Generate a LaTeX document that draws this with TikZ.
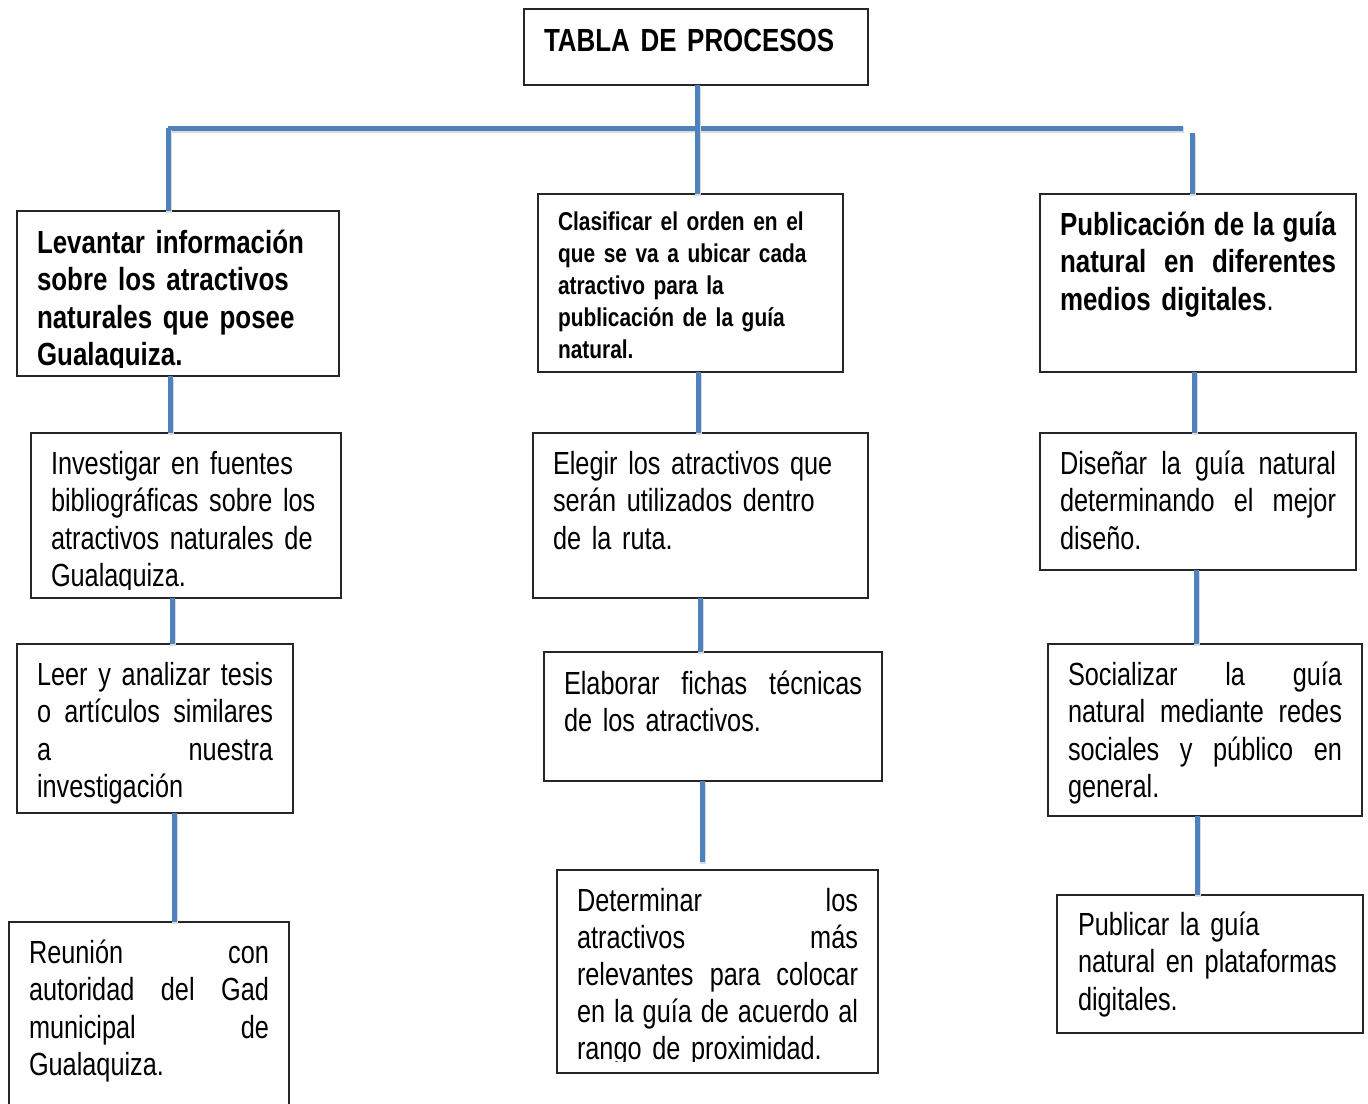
\documentclass[tikz,border=0pt]{standalone}
\usepackage{fontspec}
\setmainfont[UprightFeatures={FakeStretch=0.79},BoldFeatures={FakeStretch=0.81}]{Liberation Sans}
\definecolor{linkblue}{HTML}{4F81BD}
\newcommand\jline[2]{\leavevmode\hbox to #1pt{#2}}
\newcommand\jg{\hskip 5pt plus 1fill\relax}
\tikzset{
  box/.style={draw=black!85, line width=1.3pt, anchor=north west, inner sep=0pt, outer sep=0pt},
  txt/.style={anchor=north west, inner sep=0pt, outer sep=0pt, align=left,
              font=\fontsize{32}{37.5}\selectfont},
  txtb/.style={txt, font=\fontsize{32}{37.5}\selectfont\bfseries},
  link/.style={draw=linkblue, line width=5pt,
               preaction={draw=black!14, line width=6pt, transform canvas={shift={(1pt,-2pt)}}}},
}
\begin{document}
\begin{tikzpicture}[x=1pt,y=-1pt]
\clip (0,0) rectangle (1368,1103);
\fill[white] (0,0) rectangle (1368,1103);

% ---------- boxes ----------
\node[box, minimum width=344, minimum height=76]  (title) at (524,9) {};
\node[box, minimum width=322, minimum height=165] (L1) at (17,211) {};
\node[box, minimum width=305, minimum height=178] (C1) at (538,194) {};
\node[box, minimum width=316, minimum height=178] (R1) at (1040,194) {};
\node[box, minimum width=310, minimum height=165] (L2) at (31,433) {};
\node[box, minimum width=335, minimum height=165] (C2) at (533,433) {};
\node[box, minimum width=316, minimum height=137] (R2) at (1040,433) {};
\node[box, minimum width=276, minimum height=169] (L3) at (17,644) {};
\node[box, minimum width=338, minimum height=129] (C3) at (544,652) {};
\node[box, minimum width=314, minimum height=172] (R3) at (1048,644) {};
\node[box, minimum width=280, minimum height=200] (L4) at (9,922) {};
\node[box, minimum width=321, minimum height=203] (C4) at (557,870) {};
\node[box, minimum width=306, minimum height=138] (R4) at (1057,895) {};

% ---------- connectors ----------
\coordinate (busL) at (168,128);
\coordinate (busR) at (1183,128);
\coordinate (busRv) at (1192,133);
\coordinate (tx) at (697,0);
\draw[link] (busL) -- (busR);
\draw[link] (tx |- title.south) -- (tx |- C1.north);
\draw[link] (busL) -- (busL |- L1.north);
\draw[link] (busRv) -- (busRv |- R1.north);

\coordinate (l1) at (170,0);
\coordinate (l2) at (172,0);
\coordinate (l3) at (174,0);
\draw[link] (l1 |- L1.south) -- (l1 |- L2.north);
\draw[link] (l2 |- L2.south) -- (l2 |- L3.north);
\draw[link] (l3 |- L3.south) -- (l3 |- L4.north);

\coordinate (c1) at (698,0);
\coordinate (c2) at (700,0);
\coordinate (c3end) at (702,862);
\draw[link] (c1 |- C1.south) -- (c1 |- C2.north);
\draw[link] (c2 |- C2.south) -- (c2 |- C3.north);
\draw[link] (c3end |- C3.south) -- (c3end);

\coordinate (r1) at (1194,0);
\coordinate (r2) at (1196,0);
\coordinate (r3) at (1197,0);
\draw[link] (r1 |- R1.south) -- (r1 |- R2.north);
\draw[link] (r2 |- R2.south) -- (r2 |- R3.north);
\draw[link] (r3 |- R3.south) -- (r3 |- R4.north);

% ---------- texts ----------
\node[txtb, text width=320] (titlet) at (544,24.75) {\strut TABLA DE PROCESOS};

\begin{scope}
\clip (17,211) rectangle (339,367.5);
\node[txtb, text width=300] (L1t) at (37,226.75) {\strut Levantar información\\ sobre los atractivos\\ naturales que posee\\ Gualaquiza.};
\end{scope}

\node[txt, text width=280, font=\fontsize{25.8}{32}\selectfont\bfseries] (C1t) at (558,207.6)
  {\strut Clasificar el orden en el\\ que se va a ubicar cada\\ atractivo para la\\ publicación de la guía\\ natural.};

\node[txtb, text width=290] (R1t) at (1060,208.75)
  {\leavevmode\strut\jline{276}{Publicación\jg de\jg la\jg guía}\\ \jline{276}{natural\jg en\jg diferentes}\\ medios digitales{\mdseries .}};

\begin{scope}
\clip (31,433) rectangle (341,589);
\node[txt, text width=290] (L2t) at (51,447.75) {\strut Investigar en fuentes\\ bibliográficas sobre los\\ atractivos naturales de\\ Gualaquiza.};
\end{scope}

\node[txt, text width=310] (C2t) at (553,447.75) {\strut Elegir los atractivos que\\ serán utilizados dentro\\ de la ruta.};

\node[txt, text width=290] (R2t) at (1060,447.75)
  {\leavevmode\strut\jline{276}{Diseñar\jg la\jg guía\jg natural}\\ \jline{276}{determinando\jg el\jg mejor}\\ diseño.};

\node[txt, text width=250] (L3t) at (37,658.75)
  {\leavevmode\strut\jline{236}{Leer\jg y\jg analizar\jg tesis}\\ \jline{236}{o\jg artículos\jg similares}\\ \jline{236}{a\jg nuestra}\\ investigación};

\node[txt, text width=310] (C3t) at (564,667.75)
  {\leavevmode\strut\jline{298}{Elaborar\jg fichas\jg técnicas}\\ de los atractivos.};

\node[txt, text width=290] (R3t) at (1068,658.75)
  {\leavevmode\strut\jline{274}{Socializar\jg la\jg guía}\\ \jline{274}{natural\jg mediante\jg redes}\\ \jline{274}{sociales\jg y\jg público\jg en}\\ general.};

\node[txt, text width=250] (L4t) at (29,936.75)
  {\leavevmode\strut\jline{240}{Reunión\jg con}\\ \jline{240}{autoridad\jg del\jg Gad}\\ \jline{240}{municipal\jg de}\\ Gualaquiza.};

\begin{scope}
\clip (557,870) rectangle (878,1061.5);
\node[txt, text width=295, font=\fontsize{32}{37}\selectfont] (C4t) at (577,885.1)
  {\leavevmode\strut\jline{281}{Determinar\jg los}\\ \jline{281}{atractivos\jg más}\\ \jline{281}{relevantes\jg para\jg colocar}\\ \jline{281}{en\jg la\jg guía\jg de\jg acuerdo\jg al}\\ rango de proximidad.};
\end{scope}

\node[txt, text width=280] (R4t) at (1078,908.75)
  {\strut Publicar la guía\\ natural en plataformas\\ digitales.};
\end{tikzpicture}
\end{document}
